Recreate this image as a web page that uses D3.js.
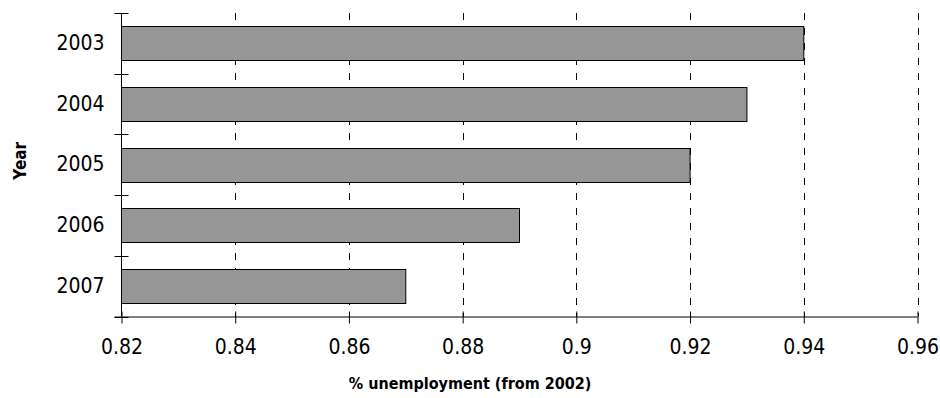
<!DOCTYPE html>
<html>
<head>
<meta charset="utf-8">
<script src="https://cdn.jsdelivr.net/npm/d3@7/dist/d3.min.js"></script>
<style>
  html, body { margin: 0; padding: 0; background: #fff; }
  svg { display: block; }
  .tick-label { font-family: "DejaVu Sans Condensed", "DejaVu Sans", sans-serif; font-stretch: condensed; font-size: 21px; fill: #000; }
  .axis-title { font-family: "DejaVu Sans Condensed", "DejaVu Sans", sans-serif; font-stretch: condensed; font-weight: bold; font-size: 16px; fill: #000; }
  .axis-title.y { font-size: 17px; }
</style>
</head>
<body>
<svg id="chart" width="940" height="398"></svg>
<script>
// Change in unemployment relative to 2002, by year
const years = ["2003", "2004", "2005", "2006", "2007"];
const values = [0.94, 0.93, 0.92, 0.89, 0.87];
const xTicks = [0.82, 0.84, 0.86, 0.88, 0.90, 0.92, 0.94, 0.96];
const xTickLabels = ["0.82", "0.84", "0.86", "0.88", "0.9", "0.92", "0.94", "0.96"];
const xTitle = "% unemployment (from 2002)";
const yTitle = "Year";

const svg = d3.select("#chart");
const plot = { left: 121.5, right: 917.5, top: 13, bottom: 316.5 };

const x = d3.scaleLinear().domain([0.82, 0.96]).range([plot.left, plot.right]);
const y = d3.scaleBand().domain(years).range([plot.top, plot.bottom])
  .paddingInner(0.44).paddingOuter(0.22);

// dashed vertical gridlines
svg.append("g").selectAll("line")
  .data(xTicks.slice(1))
  .join("line")
  .attr("x1", d => Math.round(x(d)) + 0.5)
  .attr("x2", d => Math.round(x(d)) + 0.5)
  .attr("y1", plot.top)
  .attr("y2", plot.bottom)
  .attr("stroke", "#000")
  .attr("stroke-width", 1)
  .attr("stroke-dasharray", "7,8");

// bars
svg.append("g").selectAll("rect")
  .data(years.map((yr, i) => ({ yr, v: values[i] })))
  .join("rect")
  .attr("x", x(0.82))
  .attr("y", d => Math.round(y(d.yr)) + 0.5)
  .attr("width", d => x(d.v) - x(0.82))
  .attr("height", Math.round(y.bandwidth()))
  .attr("fill", "#969696")
  .attr("stroke", "#000")
  .attr("stroke-width", 1);

// x axis
const xAxis = d3.axisBottom(x)
  .tickValues(xTicks)
  .tickFormat((d, i) => xTickLabels[i])
  .tickSizeInner(7)
  .tickSizeOuter(0)
  .tickPadding(16);
const gx = svg.append("g")
  .attr("transform", `translate(0,${plot.bottom})`)
  .call(xAxis);
gx.select(".domain").attr("stroke", "#000").attr("d", `M${plot.left - 7},0.5H${plot.right}`);
gx.selectAll(".tick line").attr("stroke", "#000").attr("y1", -5);
gx.selectAll(".tick text").attr("class", "tick-label").attr("font-family", null).attr("font-size", null);

// y axis: labels at band centres, tick marks on band boundaries
const yAxis = d3.axisLeft(y).tickSize(0).tickPadding(17);
const gy = svg.append("g")
  .attr("transform", `translate(${plot.left},0)`)
  .call(yAxis);
gy.select(".domain").attr("stroke", "#000").attr("d", `M0,${plot.top}V${plot.bottom}`);
gy.selectAll(".tick text").attr("class", "tick-label").attr("font-family", null).attr("font-size", null);

const boundaries = d3.range(years.length + 1).map(i => plot.top + i * y.step());
gy.append("g").selectAll("line")
  .data(boundaries)
  .join("line")
  .attr("x1", -7)
  .attr("x2", 7)
  .attr("y1", d => Math.round(d) + 0.5)
  .attr("y2", d => Math.round(d) + 0.5)
  .attr("stroke", "#000");

// axis titles
svg.append("text")
  .attr("class", "axis-title")
  .attr("x", 470)
  .attr("y", 389)
  .attr("text-anchor", "middle")
  .text(xTitle);

svg.append("text")
  .attr("class", "axis-title y")
  .attr("transform", `translate(26,${(plot.top + plot.bottom) / 2 - 4}) rotate(-90)`)
  .attr("text-anchor", "middle")
  .text(yTitle);
</script>
</body>
</html>
